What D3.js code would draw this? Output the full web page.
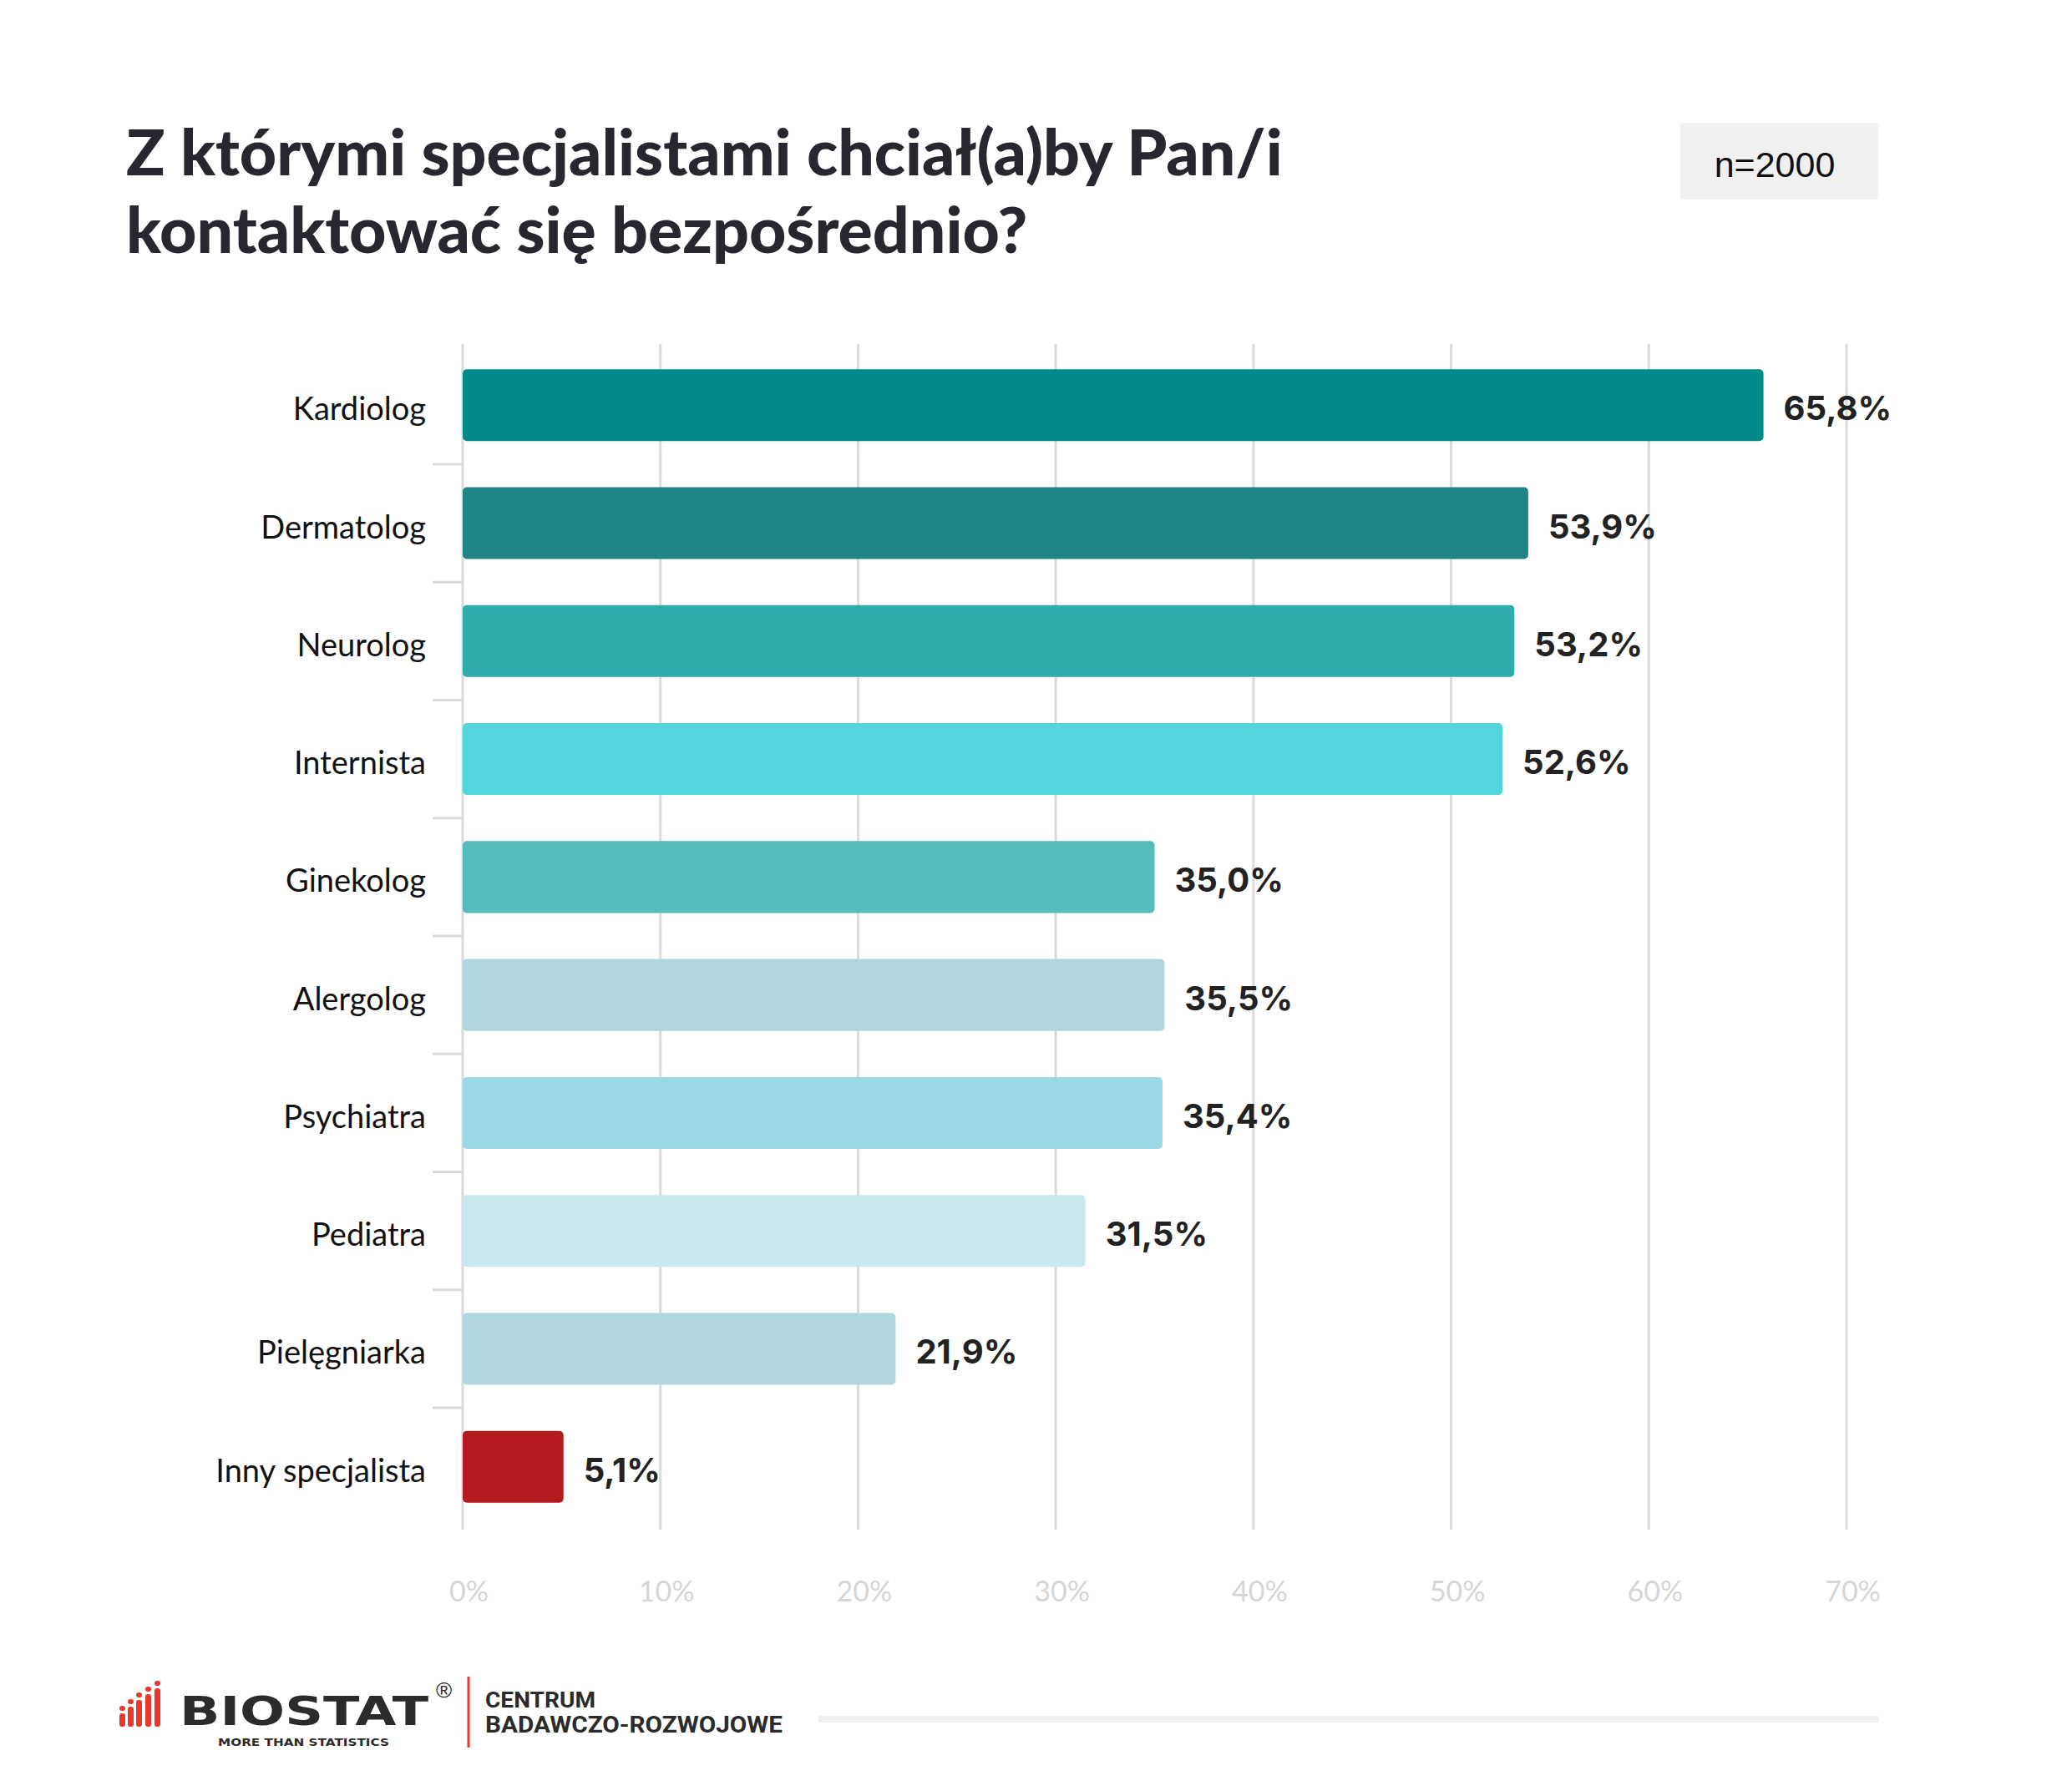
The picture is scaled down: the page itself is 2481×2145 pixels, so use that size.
<!DOCTYPE html>
<html>
<head>
<meta charset="utf-8">
<script src="https://cdn.jsdelivr.net/npm/d3@7"></script>
<style>
  html, body { margin: 0; padding: 0; background: #fff; }
  svg { display: block; }
</style>
</head>
<body>
<script>
// ---- data ----
const categories = ["Kardiolog", "Dermatolog", "Neurolog", "Internista", "Ginekolog",
  "Alergolog", "Psychiatra", "Pediatra", "Pielęgniarka", "Inny specjalista"];
const values = [65.8, 53.9, 53.2, 52.6, 35.0, 35.5, 35.4, 31.5, 21.9, 5.1];
const barColors = ["#008a8a", "#1f8583", "#2fabab", "#53d6db", "#55bbbb",
  "#b0d5de", "#9ad8e6", "#cbe7ef", "#b0d7e0", "#b51a1e"];
const xTicks = [0, 10, 20, 30, 40, 50, 60, 70];
const titleLines = ["Z którymi specjalistami chciał(a)by Pan/i", "kontaktować się bezpośrednio?"];
const sampleLabel = "n=2000";

// ---- setup ----
const W = 2481, H = 2145;
const svg = d3.select("body").append("svg").attr("width", W).attr("height", H);
svg.append("rect").attr("width", W).attr("height", H).attr("fill", "#fff");

const gridTop = 412, gridBottom = 1832;
const x = d3.scaleLinear().domain([0, 70]).range([554, 2211]);
const y = d3.scaleBand().domain(categories).range([414, 1828]).paddingInner(0.391).paddingOuter(0.2);
const plFormat = d3.formatLocale({decimal: ",", thousands: " ", grouping: [3], currency: ["", " zł"]}).format(".1f");

// title
const title = svg.append("text").attr("x", 151).attr("y", 210)
  .attr("font-family", "Lato, sans-serif").attr("font-weight", 900)
  .attr("font-size", 77).attr("fill", "#27272f");
titleLines.forEach((t, i) => title.append("tspan").attr("x", 151).attr("dy", i === 0 ? 0 : 93).text(t));

// n box
svg.append("rect").attr("x", 2012).attr("y", 147).attr("width", 237).attr("height", 92)
  .attr("rx", 4).attr("fill", "#f0f0f0");
svg.append("text").attr("x", 2125).attr("y", 212).attr("text-anchor", "middle")
  .attr("font-family", "'Liberation Sans', Arial, sans-serif").attr("font-size", 43)
  .attr("fill", "#111").text(sampleLabel);

// gridlines
svg.append("g").selectAll("line").data(xTicks).join("line")
  .attr("x1", d => x(d)).attr("x2", d => x(d))
  .attr("y1", gridTop).attr("y2", gridBottom)
  .attr("stroke", "#dadada").attr("stroke-width", 3);

// category separators (ticks between bands)
const step = y.step(), bw = y.bandwidth();
svg.append("g").selectAll("line").data(categories.slice(0, -1)).join("line")
  .attr("x1", x(0) - 36).attr("x2", x(0))
  .attr("y1", d => y(d) + bw + (step - bw) / 2)
  .attr("y2", d => y(d) + bw + (step - bw) / 2)
  .attr("stroke", "#dadada").attr("stroke-width", 3);

// x axis labels
const xAxis = d3.axisBottom(x).tickValues(xTicks).tickFormat(d => d + "%").tickSize(0).tickPadding(62);
const gx = svg.append("g").attr("transform", `translate(0,${gridBottom})`).call(xAxis);
gx.select(".domain").remove();
gx.selectAll("text").attr("font-family", "Lato, sans-serif").attr("font-size", 34)
  .attr("fill", "#d6d6d6").attr("dx", 7);

// bars
const rows = categories.map((c, i) => ({c, v: values[i], color: barColors[i]}));
svg.append("g").selectAll("rect").data(rows).join("rect")
  .attr("x", x(0)).attr("y", d => y(d.c))
  .attr("width", d => x(d.v) - x(0)).attr("height", bw)
  .attr("rx", 5).attr("fill", d => d.color);

// category labels
svg.append("g").selectAll("text").data(rows).join("text")
  .attr("x", 510).attr("y", d => y(d.c) + bw / 2 + 18)
  .attr("text-anchor", "end")
  .attr("font-family", "Lato, sans-serif").attr("font-size", 38).attr("fill", "#111")
  .text(d => d.c);

// value labels
svg.append("g").selectAll("text").data(rows).join("text")
  .attr("x", d => x(d.v) + 24).attr("y", d => y(d.c) + bw / 2 + 18)
  .attr("font-family", "Inter, sans-serif").attr("font-weight", 700)
  .attr("font-size", 40).attr("fill", "#222")
  .text(d => plFormat(d.v) + "%");

// ---- footer ----
const foot = svg.append("g");
const iconBars = [[143, 2043, 2068], [153, 2035, 2068], [163, 2027, 2068], [174, 2020, 2068], [185, 2013, 2068]];
iconBars.forEach(([bx, t, b]) => {
  foot.append("rect").attr("x", bx).attr("y", t + 9).attr("width", 7).attr("height", b - t - 9)
    .attr("rx", 3).attr("fill", "#e8392b");
  foot.append("rect").attr("x", bx).attr("y", t).attr("width", 7).attr("height", 6)
    .attr("rx", 3).attr("fill", "#e8392b");
});
foot.append("text").attr("x", 215).attr("y", 2066)
  .attr("font-family", "'DejaVu Sans', sans-serif").attr("font-weight", 700)
  .attr("font-size", 48).attr("fill", "#2b2b2b")
  .attr("textLength", 298).attr("lengthAdjust", "spacingAndGlyphs").text("BIOSTAT");
foot.append("text").attr("x", 522).attr("y", 2033)
  .attr("font-family", "'Liberation Sans', sans-serif").attr("font-size", 26).attr("fill", "#2b2b2b").text("®");
foot.append("text").attr("x", 261).attr("y", 2091)
  .attr("font-family", "'DejaVu Sans', sans-serif").attr("font-weight", 700)
  .attr("font-size", 13).attr("fill", "#2b2b2b")
  .attr("textLength", 205).attr("lengthAdjust", "spacingAndGlyphs").text("MORE THAN STATISTICS");
foot.append("line").attr("x1", 561).attr("x2", 561).attr("y1", 2008).attr("y2", 2093)
  .attr("stroke", "#e8392b").attr("stroke-width", 3);
foot.append("text").attr("x", 581).attr("y", 2045)
  .attr("font-family", "Roboto, sans-serif").attr("font-weight", 700)
  .attr("font-size", 25).attr("fill", "#2b2b2b")
  .attr("textLength", 132).attr("lengthAdjust", "spacingAndGlyphs").text("CENTRUM");
foot.append("text").attr("x", 581).attr("y", 2075)
  .attr("font-family", "Roboto, sans-serif").attr("font-weight", 700)
  .attr("font-size", 27).attr("fill", "#2b2b2b")
  .attr("textLength", 356).attr("lengthAdjust", "spacingAndGlyphs").text("BADAWCZO-ROZWOJOWE");
foot.append("rect").attr("x", 980).attr("y", 2055).attr("width", 1270).attr("height", 8)
  .attr("fill", "#efefef");
</script>
</body>
</html>
